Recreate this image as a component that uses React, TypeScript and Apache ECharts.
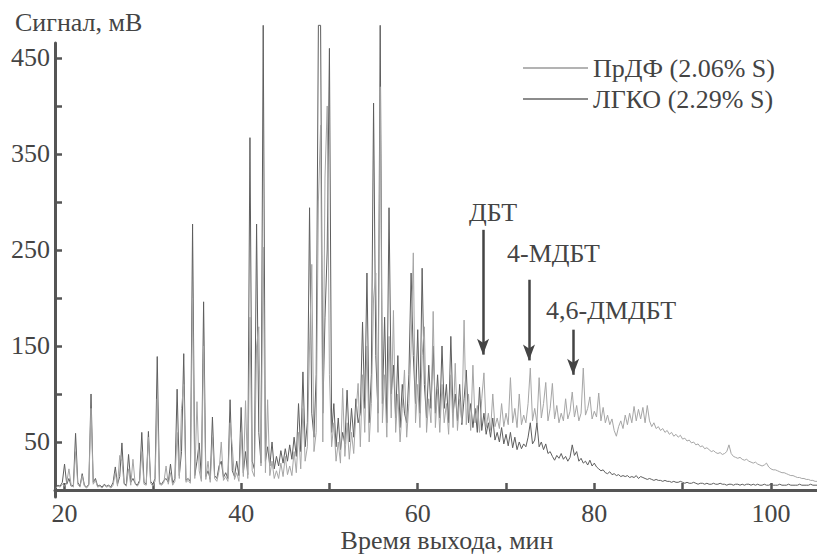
import React, { useEffect, useRef } from "react";
import * as echarts from "echarts";

// Sampling grid of the chromatogram (minutes)
const T_START = 19;
const T_STEP = 0.25;

// ПрДФ (light trace), signal in mV, one value per 0.25 min from 19 min
const prdfValues = [
  2, 4, 3, 6, 4, 8, 22, 5, 3, 40, 6, 3, 15, 4, 2, 5, 85, 6, 10, 3,
  4, 2, 5, 3, 4, 2, 5, 18, 4, 36, 30, 6, 4, 22, 5, 32, 6, 4, 8, 40,
  6, 5, 55, 7, 4, 9, 95, 6, 5, 8, 25, 6, 18, 5, 9, 60, 12, 85, 110, 8,
  10, 7, 200, 12, 92, 20, 9, 150, 11, 30, 8, 55, 12, 9, 20, 50, 10, 14, 9, 70,
  45, 11, 18, 9, 60, 14, 93, 12, 180, 20, 14, 150, 170, 25, 253, 18, 94, 15, 30, 12,
  20, 12, 28, 14, 35, 16, 25, 15, 40, 18, 60, 22, 85, 30, 45, 150, 235, 40, 60, 300,
  380, 50, 326, 400, 120, 45, 70, 30, 50, 28, 106, 35, 70, 32, 60, 38, 80, 111, 45, 120,
  60, 150, 50, 90, 200, 226, 60, 420, 70, 120, 55, 160, 75, 187, 60, 100, 50, 85, 125, 55,
  90, 150, 247, 70, 110, 65, 140, 170, 60, 95, 70, 186, 65, 105, 60, 110, 70, 90, 58, 120,
  65, 132, 62, 95, 70, 177, 68, 100, 62, 130, 70, 88, 60, 95, 122, 65, 80, 62, 100, 66,
  75, 64, 90, 66, 80, 68, 117, 70, 85, 65, 100, 68, 78, 70, 90, 127, 72, 85, 70, 117,
  75, 90, 112, 72, 85, 111, 74, 88, 70, 80, 72, 95, 74, 82, 102, 76, 88, 72, 80, 127,
  78, 85, 97, 74, 82, 76, 101, 72, 86, 70, 78, 68, 74, 62, 56, 66, 72, 64, 78, 68,
  80, 70, 87, 72, 84, 74, 86, 70, 88, 72, 66, 70, 64, 66, 62, 64, 60, 62, 58, 60,
  56, 58, 55, 57, 53, 54, 51, 52, 49, 50, 47, 48, 45, 46, 43, 44, 42, 40, 41, 39,
  38, 39, 37, 38, 40, 47, 38, 35, 34, 33, 34, 32, 31, 32, 30, 29, 28, 29, 27, 26,
  25, 26, 28, 24, 22, 21, 21, 20, 19, 18, 18, 17, 16, 15, 15, 14, 13, 13, 12, 12,
  11, 11, 10, 10, 9, 9,
];

// ЛГКО (dark trace)
const lgkoValues = [
  3, 5, 4, 8, 27, 6, 12, 4, 5, 59, 8, 4, 17, 5, 3, 6, 100, 8, 12, 4,
  5, 3, 6, 4, 5, 3, 8, 24, 6, 14, 49, 7, 5, 37, 8, 12, 7, 5, 10, 60,
  8, 6, 61, 9, 6, 12, 139, 8, 6, 10, 12, 8, 27, 7, 12, 105, 15, 40, 142, 10,
  12, 9, 277, 15, 30, 49, 12, 196, 14, 20, 11, 76, 15, 12, 25, 30, 13, 18, 12, 94,
  20, 14, 30, 15, 86, 18, 40, 16, 367, 30, 22, 277, 60, 28, 484, 30, 45, 25, 50, 22,
  35, 25, 41, 28, 43, 30, 47, 32, 55, 35, 90, 40, 123, 45, 70, 294, 80, 55, 120, 484,
  484, 80, 180, 250, 460, 60, 90, 45, 75, 42, 60, 48, 104, 50, 85, 55, 95, 70, 80, 175,
  85, 226, 70, 120, 403, 140, 80, 484, 90, 180, 70, 294, 100, 130, 75, 140, 65, 110, 80, 70,
  120, 226, 140, 90, 167, 80, 231, 110, 75, 130, 85, 150, 80, 120, 75, 150, 85, 110, 70, 160,
  80, 100, 72, 110, 68, 95, 125, 70, 90, 65, 85, 60, 107, 62, 80, 58, 70, 55, 75, 52,
  60, 50, 65, 48, 58, 46, 60, 44, 55, 42, 50, 43, 48, 45, 55, 70, 48, 52, 70, 45,
  50, 42, 48, 38, 40, 35, 31, 36, 33, 38, 32, 35, 30, 34, 47, 36, 40, 30, 33, 28,
  30, 26, 31, 25, 28, 24, 22, 20, 21, 18, 17, 19, 16, 17, 15, 16, 14, 15, 14, 15,
  13, 14, 13, 15, 12, 14, 13, 12, 11, 12, 11, 10, 11, 10, 10, 9, 10, 9, 9, 8,
  9, 8, 8, 9, 8, 7, 8, 7, 7, 8, 7, 6, 7, 7, 6, 7, 6, 6, 7, 6,
  6, 7, 6, 6, 5, 6, 6, 5, 6, 6, 5, 6, 5, 6, 6, 5, 6, 5, 6, 5,
  5, 6, 5, 5, 6, 5, 5, 5, 6, 5, 5, 5, 6, 5, 5, 5, 5, 6, 5, 5,
  5, 5, 6, 5, 5, 5,
];

const seriesNames = ["ПрДФ (2.06% S)", "ЛГКО (2.29% S)"];
const xTicks = [20, 30, 40, 50, 60, 70, 80, 90, 100];
const xLabels = [20, 40, 60, 80, 100];
const yTicks = [50, 100, 150, 200, 250, 300, 350, 400, 450];
const yLabels = [50, 150, 250, 350, 450];

// Arrows marking compounds: time, start value, end value
const arrows = [
  { name: "ДБТ", t: 67.4, from: 271, to: 141 },
  { name: "4-МДБТ", t: 72.6, from: 219, to: 135 },
  { name: "4,6-ДМДБТ", t: 77.6, from: 167, to: 120 },
];

const FONT = "'Liberation Serif', 'Times New Roman', serif";
const FS = 26;
const TXT = "#444";
const AX = "#555";

export default function App() {
  const ref = useRef<HTMLDivElement>(null);
  useEffect(() => {
    if (!ref.current) return;
    const chart = echarts.init(ref.current, undefined, { renderer: "svg" });
    const toPairs = (vals: number[]) => vals.map((v, i) => [T_START + i * T_STEP, v]);
    const txt = (text: string, x: number, y: number, align = "left") => ({
      type: "text",
      x,
      y,
      style: { text, fontFamily: FONT, fontSize: FS, lineHeight: FS, fill: TXT, align, verticalAlign: "middle" },
    });
    chart.setOption({
      animation: false,
      backgroundColor: "#fff",
      textStyle: { fontFamily: FONT },
      grid: { left: 55, right: 0, top: 43, bottom: 58 },
      legend: {
        data: seriesNames,
        orient: "vertical",
        left: 518,
        top: 50,
        icon: "rect",
        itemWidth: 65,
        itemHeight: 1.5,
        itemGap: 5,
        textStyle: { fontFamily: FONT, fontSize: FS, lineHeight: FS, color: TXT },
      },
      xAxis: {
        type: "value",
        min: 18.92,
        max: 105.22,
        axisLine: { show: true, lineStyle: { color: AX, width: 3 } },
        axisTick: { show: true, inside: true, length: 7, customValues: xTicks, lineStyle: { color: AX, width: 2.5 } },
        axisLabel: { customValues: xLabels, fontFamily: FONT, fontSize: FS, lineHeight: FS, color: TXT, margin: 3 },
        splitLine: { show: false },
      },
      yAxis: {
        type: "value",
        min: -7.3,
        max: 465.6,
        axisLine: { show: true, lineStyle: { color: AX, width: 3 } },
        axisTick: { show: true, inside: true, length: 7, customValues: yTicks, lineStyle: { color: AX, width: 2.5 } },
        axisLabel: { customValues: yLabels, fontFamily: FONT, fontSize: FS, lineHeight: FS, color: TXT, margin: 5 },
        splitLine: { show: false },
      },
      graphic: [
        txt("Сигнал, мВ", 15, 22),
        txt("Время выхода, мин", 447, 540, "center"),
        txt(arrows[0].name, 469, 212),
        txt(arrows[1].name, 507, 253),
        txt(arrows[2].name, 546, 310),
      ],
      series: [
        {
          name: seriesNames[1],
          type: "line",
          data: toPairs(lgkoValues),
          showSymbol: false,
          clip: false,
          lineStyle: { color: "#5e5e5e", width: 1 },
          itemStyle: { color: "#666" },
          z: 2,
        },
        {
          name: seriesNames[0],
          type: "line",
          data: toPairs(prdfValues),
          showSymbol: false,
          clip: false,
          lineStyle: { color: "#a6a6a6", width: 1 },
          itemStyle: { color: "#9a9a9a" },
          z: 3,
          markLine: {
            silent: true,
            symbol: ["none", "arrow"],
            symbolSize: [9, 16],
            label: { show: false },
            lineStyle: { color: "#444", width: 2.5, type: "solid" },
            data: arrows.map((a) => [{ coord: [a.t, a.from] }, { coord: [a.t, a.to] }]),
          },
        },
      ],
    });
    return () => chart.dispose();
  }, []);
  return <div ref={ref} style={{ position: "fixed", left: 0, top: 0, width: 817, height: 555 }} />;
}
